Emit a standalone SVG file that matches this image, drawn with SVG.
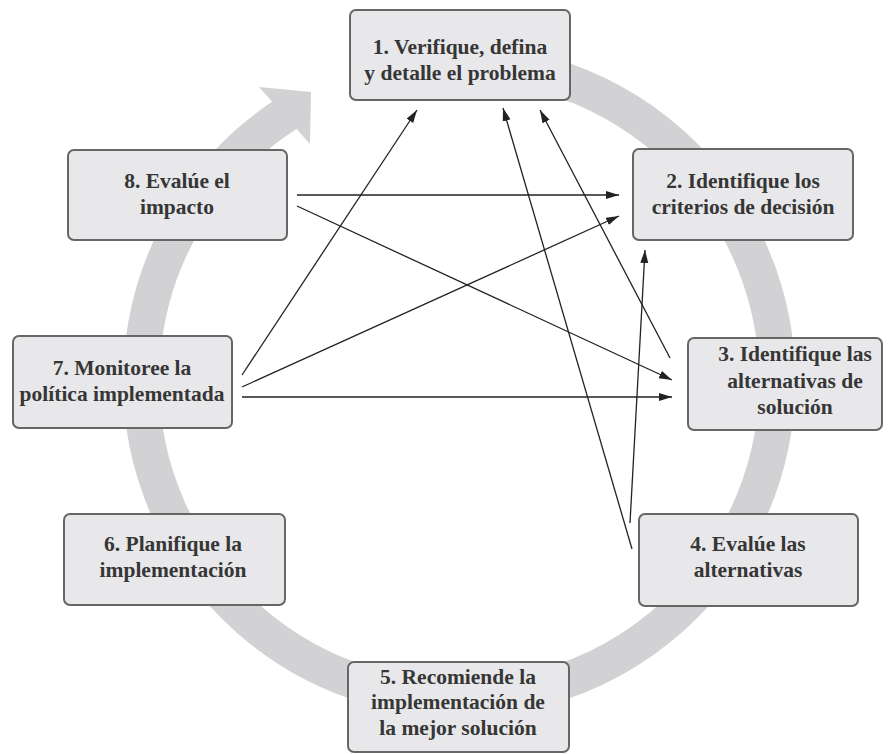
<svg xmlns="http://www.w3.org/2000/svg" width="896" height="754" viewBox="0 0 896 754">
<style>
.box{fill:#e8e8ea;stroke:#666;stroke-width:2}
.t{font-family:"Liberation Serif",serif;font-weight:bold;font-size:21.5px;fill:#363636;text-anchor:middle}
.c{stroke:#222;stroke-width:1.3;fill:none;marker-end:url(#ah)}
</style>
<defs>
<marker id="ah" markerUnits="userSpaceOnUse" markerWidth="14" markerHeight="10" refX="13" refY="4" orient="auto">
<path d="M0,0 L13,4 L0,8 z" fill="#222"/>
</marker>
</defs>
<rect width="896" height="754" fill="#fff"/>
<g id="cycle">
<path d="M515.2,67.8 A318,318 0 1 1 287,113.5" fill="none" stroke="#d2d2d4" stroke-width="36"/>
<polygon points="259,87 311,92 310,144" fill="#d2d2d4"/>
</g>
<g id="connectors">
<line class="c" x1="297" y1="195" x2="619" y2="195"/>
<line class="c" x1="297" y1="206" x2="672" y2="380"/>
<line class="c" x1="242" y1="375" x2="417" y2="110"/>
<line class="c" x1="242" y1="387" x2="619" y2="216"/>
<line class="c" x1="242" y1="397" x2="672" y2="397"/>
<line class="c" x1="632" y1="549" x2="503" y2="108"/>
<line class="c" x1="630" y1="523" x2="645" y2="250"/>
<line class="c" x1="670" y1="358" x2="540" y2="110"/>
</g>
<g id="n1">
<rect class="box" x="350" y="10" width="220" height="90" rx="6"/>
<text class="t" x="460" y="54">1. Verifique, defina</text>
<text class="t" x="460" y="80">y detalle el problema</text>
</g>
<g id="n2">
<rect class="box" x="633" y="149" width="220" height="91" rx="6"/>
<text class="t" x="743" y="188">2. Identifique los</text>
<text class="t" x="743" y="214">criterios de decisión</text>
</g>
<g id="n3">
<rect class="box" x="688" y="338" width="194" height="92" rx="6"/>
<text class="t" x="795" y="361">3. Identifique las</text>
<text class="t" x="795" y="388">alternativas de</text>
<text class="t" x="795" y="414">solución</text>
</g>
<g id="n4">
<rect class="box" x="639" y="514" width="219" height="92" rx="6"/>
<text class="t" x="748" y="551">4. Evalúe las</text>
<text class="t" x="748" y="577">alternativas</text>
</g>
<g id="n5">
<rect class="box" x="348" y="662" width="221" height="90" rx="6"/>
<text class="t" x="458" y="684">5. Recomiende la</text>
<text class="t" x="458" y="709">implementación de</text>
<text class="t" x="458" y="735">la mejor solución</text>
</g>
<g id="n6">
<rect class="box" x="64" y="514" width="221" height="91" rx="6"/>
<text class="t" x="173" y="551">6. Planifique la</text>
<text class="t" x="173" y="577">implementación</text>
</g>
<g id="n7">
<rect class="box" x="13" y="336" width="219" height="92" rx="6"/>
<text class="t" x="122" y="375">7. Monitoree la</text>
<text class="t" x="122" y="401">política implementada</text>
</g>
<g id="n8">
<rect class="box" x="68" y="150" width="219" height="90" rx="6"/>
<text class="t" x="177" y="188">8. Evalúe el</text>
<text class="t" x="177" y="214">impacto</text>
</g>
</svg>
